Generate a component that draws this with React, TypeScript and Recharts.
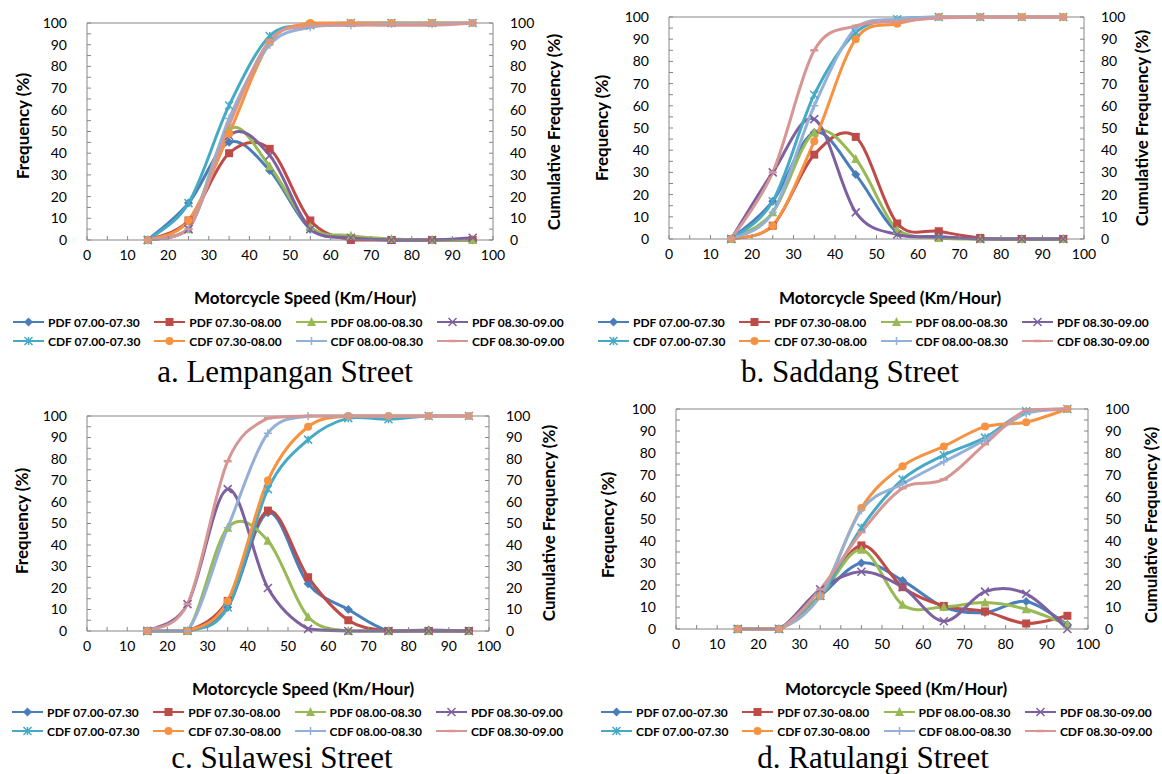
import React from "react"
import { LineChart, Line, XAxis, YAxis, ReferenceLine } from "recharts"

const speeds = [15, 25, 35, 45, 55, 65, 75, 85, 95]
const axisTicks = [0, 5, 10, 15, 20, 25, 30, 35, 40, 45, 50, 55, 60, 65, 70, 75, 80, 85, 90, 95, 100]

const seriesNames = [
  "PDF 07.00-07.30",
  "PDF 07.30-08.00",
  "PDF 08.00-08.30",
  "PDF 08.30-09.00",
  "CDF 07.00-07.30",
  "CDF 07.30-08.00",
  "CDF 08.00-08.30",
  "CDF 08.30-09.00",
]

// a. Lempangan
const lempanganPdf = [
  [0, 17, 45, 32, 5, 1, 0, 0, 0],
  [0, 9, 40, 42, 9, 0, 0, 0, 0],
  [0, 5, 51, 34, 6, 2, 0.5, 0, 0],
  [0, 5, 48, 39, 5, 1, 0, 0, 1],
]
const lempanganCdf = [
  [0, 17, 62, 94, 99, 100, 100, 100, 100],
  [0, 9, 49, 91, 100, 100, 100, 100, 100],
  [0, 5, 56, 90, 98, 99, 99.5, 99.5, 100],
  [0, 5, 53, 92, 98.5, 99, 99, 99, 100],
]

// b. Saddang
const saddangPdf = [
  [0, 17, 48, 29, 3, 1, 0, 0, 0],
  [0, 6, 38, 46, 7, 3.5, 0.5, 0, 0],
  [0, 12, 48, 36, 4, 0.5, 0, 0, 0],
  [0, 30, 54, 12, 2, 1, 0, 0, 0],
]
const saddangCdf = [
  [0, 17, 65, 93, 99, 100, 100, 100, 100],
  [0, 6, 44, 90, 97, 100, 100, 100, 100],
  [0, 12, 60, 95, 99, 100, 100, 100, 100],
  [0, 30, 85, 96, 98, 99.5, 100, 100, 100],
]

// c. Sulawesi
const sulawesiPdf = [
  [0, 0, 11, 55, 22, 10, 0, 0.5, 0],
  [0, 0, 14, 56, 25, 5, 0, 0, 0],
  [0, 0, 48, 42, 6.5, 0, 0, 0, 0],
  [0, 12.5, 66, 20, 1, 0, 0, 0, 0],
]
const sulawesiCdf = [
  [0, 0, 11, 66, 89, 99, 98.5, 100, 100],
  [0, 0, 14, 70, 95, 100, 100, 100, 100],
  [0, 0, 48, 92, 100, 100, 100, 100, 100],
  [0, 12.5, 79, 99, 100, 100, 100, 100, 100],
]

// d. Ratulangi
const ratulangiPdf = [
  [0, 0, 15, 30, 22, 10, 7.5, 12.5, 2],
  [0, 0, 15, 38, 19, 10.5, 8, 2.5, 6],
  [0, 0, 15, 36, 11, 10, 12, 9, 2],
  [0, 0, 18, 26, 19, 3.5, 17, 16, 0],
]
const ratulangiCdf = [
  [0, 0, 15, 46, 68, 79, 87, 99, 100],
  [0, 0, 15, 55, 74, 83, 92, 94, 100],
  [0, 0, 15, 54, 66, 76, 86, 98, 100],
  [0, 0, 18, 44, 64, 68, 84, 99.5, 100],
]

const seriesStyles = [
  { color: "#4A7EBB", shape: "diamond" },
  { color: "#BE4B48", shape: "square" },
  { color: "#98B954", shape: "triangle" },
  { color: "#7D60A0", shape: "x" },
  { color: "#46AAC5", shape: "star" },
  { color: "#F69240", shape: "circle" },
  { color: "#93B1D8", shape: "plus" },
  { color: "#D69694", shape: "dash" },
]

const FRAME = "#868686"

// Excel-like smoothed line (Catmull-Rom bezier, 1/6 control points),
// control points kept inside the plot so the curve never leaves it
const makeExcelCurve = (top: number, bottom: number): any => (context: any) => {
  let pts: number[][] = []
  const cl = (y: number) => Math.max(top, Math.min(bottom, y))
  return {
    areaStart() {},
    areaEnd() {},
    lineStart() {
      pts = []
    },
    lineEnd() {
      const n = pts.length
      if (!n) return
      context.moveTo(pts[0][0], pts[0][1])
      for (let i = 0; i < n - 1; i++) {
        const p0 = pts[i > 0 ? i - 1 : i]
        const p1 = pts[i]
        const p2 = pts[i + 1]
        const p3 = pts[i + 2 < n ? i + 2 : i + 1]
        context.bezierCurveTo(
          p1[0] + (p2[0] - p0[0]) / 6,
          cl(p1[1] + (p2[1] - p0[1]) / 6),
          p2[0] - (p3[0] - p1[0]) / 6,
          cl(p2[1] - (p3[1] - p1[1]) / 6),
          p2[0],
          p2[1]
        )
      }
    },
    point(x: number, y: number) {
      pts.push([+x, +y])
    },
  }
}

function Marker({ cx, cy, shape, color }: any) {
  if (cx == null || cy == null) return null
  const s = 4
  switch (shape) {
    case "diamond":
      return <path d={`M${cx},${cy - s - 0.5}L${cx + s + 0.5},${cy}L${cx},${cy + s + 0.5}L${cx - s - 0.5},${cy}Z`} fill={color} />
    case "square":
      return <rect x={cx - s} y={cy - s} width={2 * s} height={2 * s} fill={color} />
    case "triangle":
      return <path d={`M${cx},${cy - s - 1}L${cx + s + 0.5},${cy + s}L${cx - s - 0.5},${cy + s}Z`} fill={color} />
    case "x":
      return (
        <path d={`M${cx - s},${cy - s}L${cx + s},${cy + s}M${cx + s},${cy - s}L${cx - s},${cy + s}`} stroke={color} strokeWidth={1.5} fill="none" />
      )
    case "star":
      return (
        <path
          d={`M${cx - s},${cy - s}L${cx + s},${cy + s}M${cx + s},${cy - s}L${cx - s},${cy + s}M${cx},${cy - s}L${cx},${cy + s}`}
          stroke={color}
          strokeWidth={1.5}
          fill="none"
        />
      )
    case "circle":
      return <circle cx={cx} cy={cy} r={s} fill={color} />
    case "plus":
      return <path d={`M${cx - s},${cy}L${cx + s},${cy}M${cx},${cy - s}L${cx},${cy + s}`} stroke={color} strokeWidth={1.5} fill="none" />
    case "dash":
      return <path d={`M${cx - s},${cy}L${cx + s},${cy}`} stroke={color} strokeWidth={2.5} fill="none" />
  }
  return null
}

function LegendSwatch({ color, shape }: any) {
  return (
    <svg width={31} height={12} style={{ display: "block" }}>
      <line x1={0} y1={6} x2={31} y2={6} stroke={color} strokeWidth={2} />
      <Marker cx={15.5} cy={6} shape={shape} color={color} />
    </svg>
  )
}

const panels = [
  {
    caption: "a. Lempangan Street",
    pdf: lempanganPdf,
    cdf: lempanganCdf,
    box: { x: 0, y: 0, w: 580, h: 275 },
    plot: { l: 87, r: 493, t: 23, b: 240 },
    yTitleL: [22, 126],
    yTitleR: [553, 132],
    xTitle: [305, 297],
    legend: [13, 322],
    cap: [285, 372],
  },
  {
    caption: "b. Saddang Street",
    pdf: saddangPdf,
    cdf: saddangCdf,
    box: { x: 581, y: 0, w: 581, h: 275 },
    plot: { l: 669, r: 1084, t: 17, b: 239 },
    yTitleL: [601, 128],
    yTitleR: [1141, 128],
    xTitle: [890, 297],
    legend: [598, 322],
    cap: [850, 372],
  },
  {
    caption: "c. Sulawesi Street",
    pdf: sulawesiPdf,
    cdf: sulawesiCdf,
    box: { x: 0, y: 390, w: 580, h: 275 },
    plot: { l: 87, r: 489, t: 416, b: 631 },
    yTitleL: [21, 521],
    yTitleR: [548, 523],
    xTitle: [303, 688],
    legend: [12, 712],
    cap: [282, 758],
  },
  {
    caption: "d. Ratulangi Street",
    pdf: ratulangiPdf,
    cdf: ratulangiCdf,
    box: { x: 581, y: 390, w: 581, h: 275 },
    plot: { l: 676, r: 1088, t: 409, b: 629 },
    yTitleL: [607, 525],
    yTitleR: [1150, 525],
    xTitle: [896, 688],
    legend: [601, 712],
    cap: [873, 758],
  },
]

const tickStyle = { fontSize: 14, fill: "#000", fontFamily: "Lato" }
const fmt = (v: number) => (v % 10 === 0 ? String(v) : "")

function Panel({ p }: any) {
  const { box, plot } = p
  const data = speeds.map((x, i) => {
    const row: any = { x }
    p.pdf.forEach((s: number[], k: number) => (row[`s${k}`] = s[i]))
    p.cdf.forEach((s: number[], k: number) => (row[`s${k + 4}`] = s[i]))
    return row
  })
  const curve = makeExcelCurve(plot.t - box.y, plot.b - box.y)

  const titleStyle: any = {
    position: "absolute",
    fontFamily: "Lato",
    fontWeight: 700,
    fontSize: 17,
    whiteSpace: "nowrap",
    color: "#000",
  }

  return (
    <>
      <div style={{ position: "absolute", left: box.x, top: box.y }}>
        <LineChart
          width={box.w}
          height={box.h}
          data={data}
          margin={{ top: plot.t - box.y, right: 0, bottom: 0, left: 0 }}
        >
          <XAxis
            dataKey="x"
            type="number"
            domain={[0, 100]}
            ticks={axisTicks}
            interval={0}
            height={box.y + box.h - plot.b}
            tickSize={-4}
            tickMargin={14}
            tick={tickStyle}
            tickFormatter={fmt}
            axisLine={{ stroke: FRAME }}
            tickLine={{ stroke: FRAME }}
          />
          <YAxis
            yAxisId="left"
            orientation="left"
            type="number"
            domain={[0, 100]}
            ticks={axisTicks}
            interval={0}
            width={plot.l - box.x}
            tickSize={-4}
            tickMargin={24}
            tick={tickStyle}
            tickFormatter={fmt}
            axisLine={{ stroke: FRAME }}
            tickLine={{ stroke: FRAME }}
          />
          <YAxis
            yAxisId="right"
            orientation="right"
            type="number"
            domain={[0, 100]}
            ticks={axisTicks}
            interval={0}
            width={box.x + box.w - plot.r}
            tickSize={-4}
            tickMargin={21}
            tick={tickStyle}
            tickFormatter={fmt}
            axisLine={{ stroke: FRAME }}
            tickLine={{ stroke: FRAME }}
          />
          <ReferenceLine yAxisId="left" y={100} stroke={FRAME} />
          {seriesNames.map((name, k) => {
            const st = seriesStyles[k]
            return (
              <Line
                key={name}
                name={name}
                yAxisId={k < 4 ? "left" : "right"}
                dataKey={`s${k}`}
                type={curve}
                stroke={st.color}
                strokeWidth={3}
                dot={(d: any) => <Marker key={`${k}-${d.index}`} cx={d.cx} cy={d.cy} shape={st.shape} color={st.color} />}
                activeDot={false}
                isAnimationActive={false}
              />
            )
          })}
        </LineChart>
      </div>

      <div style={{ ...titleStyle, left: p.yTitleL[0], top: p.yTitleL[1], transform: "translate(-50%,-50%) rotate(-90deg)" }}>
        Frequency (%)
      </div>
      <div style={{ ...titleStyle, left: p.yTitleR[0], top: p.yTitleR[1], transform: "translate(-50%,-50%) rotate(-90deg)" }}>
        Cumulative Frequency (%)
      </div>
      <div style={{ ...titleStyle, left: p.xTitle[0], top: p.xTitle[1], transform: "translate(-50%,-50%)" }}>
        Motorcycle Speed (Km/Hour)
      </div>

      {seriesNames.map((name, k) => {
        const st = seriesStyles[k]
        const col = k % 4
        const row = Math.floor(k / 4)
        return (
          <div
            key={name}
            style={{
              position: "absolute",
              left: p.legend[0] + col * 141.3,
              top: p.legend[1] + row * 19 - 8,
              height: 16,
              display: "flex",
              alignItems: "center",
              fontFamily: "Lato",
              fontWeight: 700,
              fontSize: 12,
              whiteSpace: "nowrap",
              color: "#000",
            }}
          >
            <LegendSwatch color={st.color} shape={st.shape} />
            <span style={{ marginLeft: 4 }}>{name}</span>
          </div>
        )
      })}

      <div
        style={{
          position: "absolute",
          left: p.cap[0] - 250,
          width: 500,
          top: p.cap[1] - 18,
          lineHeight: "36px",
          textAlign: "center",
          fontFamily: "Liberation Serif",
          fontSize: 31,
          color: "#000",
        }}
      >
        {p.caption}
      </div>
    </>
  )
}

export default function App() {
  return (
    <div style={{ position: "absolute", left: 0, top: 0, width: 1162, height: 774, background: "#fff", overflow: "hidden" }}>
      {panels.map((p) => (
        <Panel key={p.caption} p={p} />
      ))}
    </div>
  )
}
